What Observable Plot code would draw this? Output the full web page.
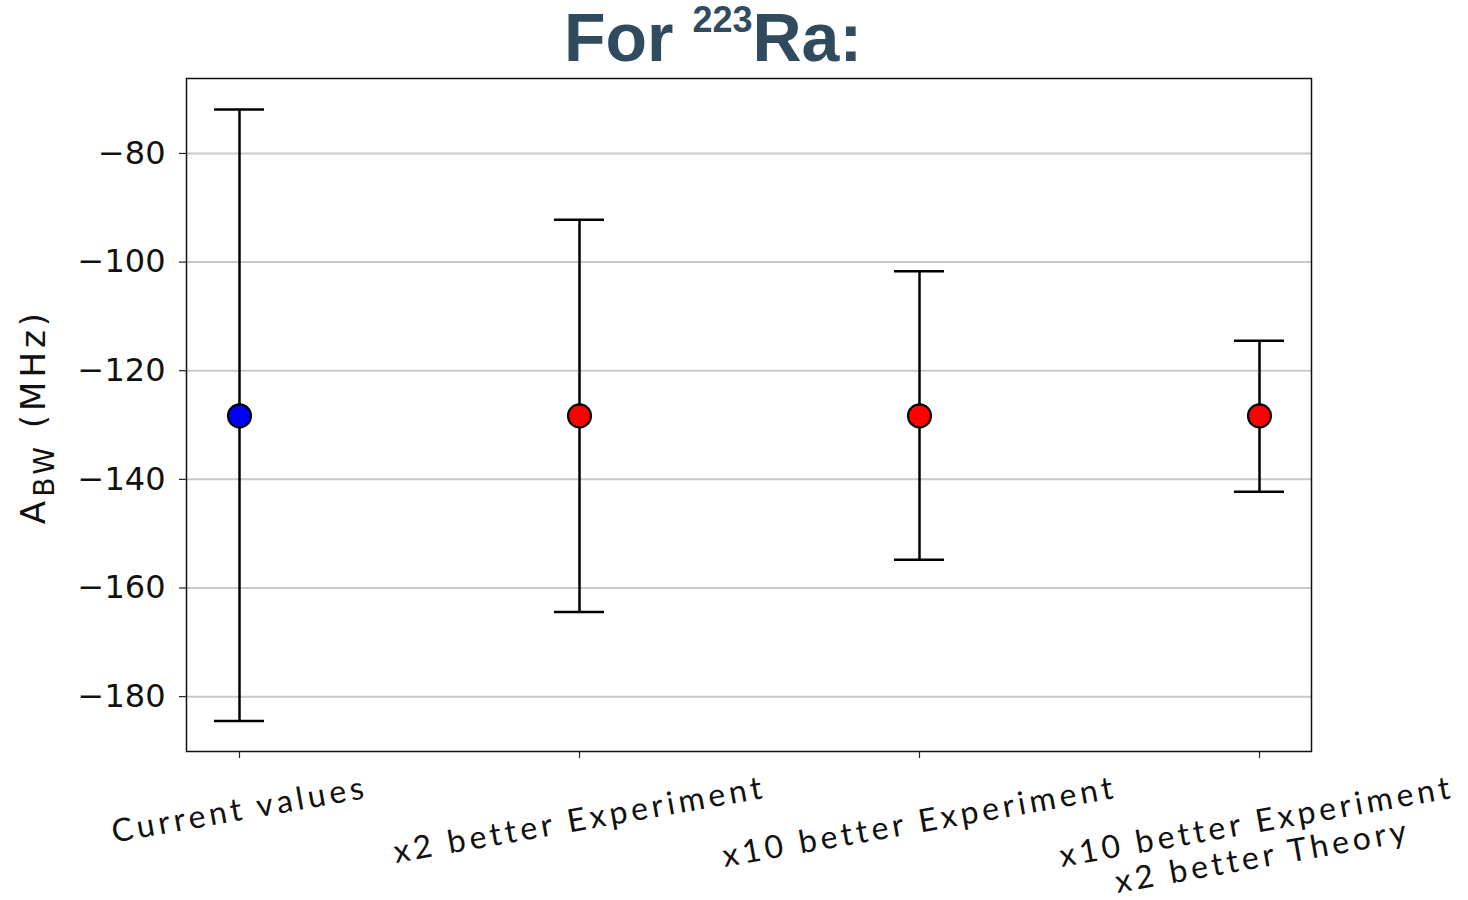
<!DOCTYPE html>
<html><head><meta charset="utf-8">
<script src="https://cdn.jsdelivr.net/npm/d3@7"></script>
<script src="https://cdn.jsdelivr.net/npm/@observablehq/plot@0.6"></script>
<style>
body{margin:0;background:#fff;width:1468px;height:900px;overflow:hidden;position:relative;}
#title{position:absolute;left:0;top:3px;width:1468px;text-align:center;font-family:"Liberation Sans",Arial,sans-serif;font-weight:bold;font-size:68px;line-height:68px;color:#2f4b5d;padding-right:42px;box-sizing:border-box;white-space:nowrap}
#title sup{font-size:36px;vertical-align:29px;line-height:0}
#chart{position:absolute;left:0;top:70px}
</style></head><body>
<div id="title">For <sup>223</sup>Ra:</div>
<div id="chart"></div>
<script>
// ---- data ----
const categories = [
  "Current values",
  "x2 better Experiment",
  "x10 better Experiment",
  "x10 better Experiment\nx2 better Theory"
];
const centralValues = [-128.3, -128.3, -128.3, -128.3];
const lowerBounds = [-184.5, -164.4, -154.8, -142.3];
const upperBounds = [-71.9, -92.2, -101.7, -114.5];
const pointColors = ["#0000ff", "#ff0000", "#ff0000", "#ff0000"];
const yTicks = [-80, -100, -120, -140, -160, -180];
const yDomain = [-190.1, -66.2];

const data = categories.map((c, i) => ({
  c, v: centralValues[i], lo: lowerBounds[i], hi: upperBounds[i], color: pointColors[i]
}));

// ---- layout ----
const W = 1468, H = 830;
const mL = 186, mR = 157, mT = 8, mB = 149;

// measure category labels to place them like matplotlib (rotated bbox top at fixed offset)
const LABEL_FONT_SIZE = 32, LABEL_FONT = "Lato", LS = 4;
const ctx = document.createElement("canvas").getContext("2d");
ctx.font = `${LABEL_FONT_SIZE}px ${LABEL_FONT}`;
const textW = s => ctx.measureText(s).width + LS * (s.length - 1);
const rot = 10 * Math.PI / 180;
const lineH = LABEL_FONT_SIZE * 1.1;

const labelMarks = data.map(d => {
  const lines = d.c.split("\n");
  const w = Math.max(...lines.map(textW));
  const hBox = w * Math.sin(rot) + lines.length * lineH * Math.cos(rot);
  return Plot.text([d], {
    x: "c", text: "c", frameAnchor: "bottom", rotate: -10,
    dy: 18 + hBox / 2, lineAnchor: "middle", lineHeight: 1.1,
    textAnchor: "middle", fontSize: LABEL_FONT_SIZE, fontFamily: LABEL_FONT, fill: "#111"
  });
});

const plot = Plot.plot({
  width: W, height: H,
  marginLeft: mL, marginRight: mR, marginTop: mT, marginBottom: mB,
  style: {background: "white", overflow: "visible"},
  // band scale: bandwidth = error-bar cap width, band centres = category positions
  x: {type: "band", domain: categories, paddingInner: 0.8532, paddingOuter: 0.0786, axis: null},
  y: {domain: yDomain, axis: null},
  color: {type: "identity"},
  marks: [
    Plot.gridY(yTicks, {stroke: "#c8c8c8", strokeOpacity: 1, strokeWidth: 2}),
    Plot.axisY(yTicks, {
      tickSize: 7, tickPadding: 14, fontSize: 32, fontFamily: "DejaVu Sans",
      tickFormat: d => "\u2212" + Math.abs(d), stroke: "#222", strokeWidth: 1.2, fill: "#111", label: null
    }),
    Plot.axisX(categories, {tickSize: 7, tickFormat: () => "", stroke: "#222", strokeWidth: 1.2, label: null}),
    Plot.ruleX(data, {x: "c", y1: "lo", y2: "hi", stroke: "black", strokeWidth: 2.5}),
    Plot.tickY(data, {x: "c", y: "lo", stroke: "black", strokeWidth: 2.5}),
    Plot.tickY(data, {x: "c", y: "hi", stroke: "black", strokeWidth: 2.5}),
    Plot.dot(data, {x: "c", y: "v", r: 11.5, fill: "color", stroke: "black", strokeWidth: 2.2}),
    Plot.frame({stroke: "#111", strokeWidth: 1.5}),
    ...labelMarks
  ]
});

// letter spacing for the rotated category labels
d3.select(plot).selectAll('g[aria-label="text"] text').style("letter-spacing", LS + "px");

// y-axis title with subscript
const yMid = mT + (H - mT - mB) / 2 + 2;
const yl = d3.select(plot).append("text")
  .attr("transform", `translate(45,${yMid}) rotate(-90)`)
  .attr("text-anchor", "middle")
  .attr("fill", "#111")
  .style("font-family", "DejaVu Sans")
  .style("font-size", "34px")
  .style("letter-spacing", "4px");
yl.append("tspan").text("A");
yl.append("tspan").attr("dy", 9).style("font-size", "28px").text("BW");
yl.append("tspan").attr("dy", -9).text("\u00a0(MHz)");

document.getElementById("chart").appendChild(plot);
</script>
</body></html>
